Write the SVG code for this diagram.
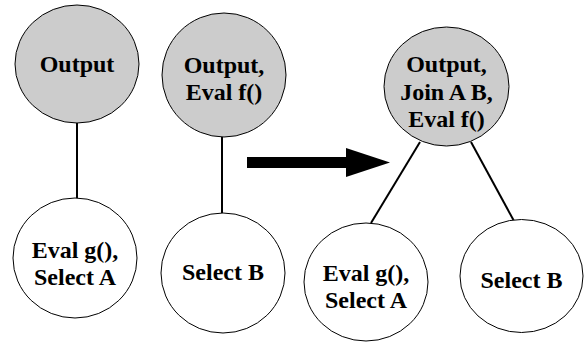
<svg xmlns="http://www.w3.org/2000/svg" width="584" height="342" viewBox="0 0 584 342">
  <style>
    .node { stroke: #000; stroke-width: 1; }
    .op { fill: #cccccc; }
    .leaf { fill: #ffffff; }
    .edge { stroke: #000; stroke-width: 2; fill: none; }
  </style>
  <rect width="584" height="342" fill="#ffffff"/>

  <!-- tree edges -->
  <g id="connectors">
    <line class="edge" x1="77" y1="123" x2="77" y2="199"/>
    <line class="edge" x1="222" y1="137" x2="222" y2="213"/>
    <line class="edge" x1="420" y1="142" x2="371" y2="223"/>
    <line class="edge" x1="471" y1="142" x2="514" y2="221"/>
    <!-- transformation arrow -->
    <rect x="247" y="157" width="100" height="11" fill="#000"/>
    <polygon points="346,148 390,162.5 346,177" fill="#000"/>
  </g>

  <g font-family="Liberation Serif, DejaVu Serif, serif" font-weight="bold" font-size="24" text-anchor="middle" fill="#000">
    <!-- plan before the rewrite -->
    <g id="output1">
      <ellipse class="node op" cx="77" cy="64" rx="62" ry="59"/>
      <text x="77" y="72">Output</text>
    </g>
    <g id="selectA1">
      <ellipse class="node leaf" cx="75" cy="258" rx="62" ry="60"/>
      <text x="75" y="258">Eval g(),</text>
      <text x="75" y="285">Select A</text>
    </g>
    <g id="output2">
      <ellipse class="node op" cx="224" cy="75" rx="62" ry="62"/>
      <text x="224" y="73">Output,</text>
      <text x="224" y="100">Eval f()</text>
    </g>
    <g id="selectB1">
      <ellipse class="node leaf" cx="223" cy="273" rx="62" ry="60"/>
      <text x="223" y="280">Select B</text>
    </g>

    <!-- plan after the rewrite -->
    <g id="join">
      <ellipse class="node op" cx="446.5" cy="86.5" rx="62.5" ry="59.5"/>
      <text x="446.5" y="72">Output,</text>
      <text x="446.5" y="99.5">Join A B,</text>
      <text x="446.5" y="127">Eval f()</text>
    </g>
    <g id="selectA2">
      <ellipse class="node leaf" cx="366" cy="282" rx="62" ry="59"/>
      <text x="366" y="281">Eval g(),</text>
      <text x="366" y="308">Select A</text>
    </g>
    <g id="selectB2">
      <ellipse class="node leaf" cx="521.5" cy="276" rx="61.5" ry="56.5"/>
      <text x="521.5" y="288">Select B</text>
    </g>
  </g>
</svg>
